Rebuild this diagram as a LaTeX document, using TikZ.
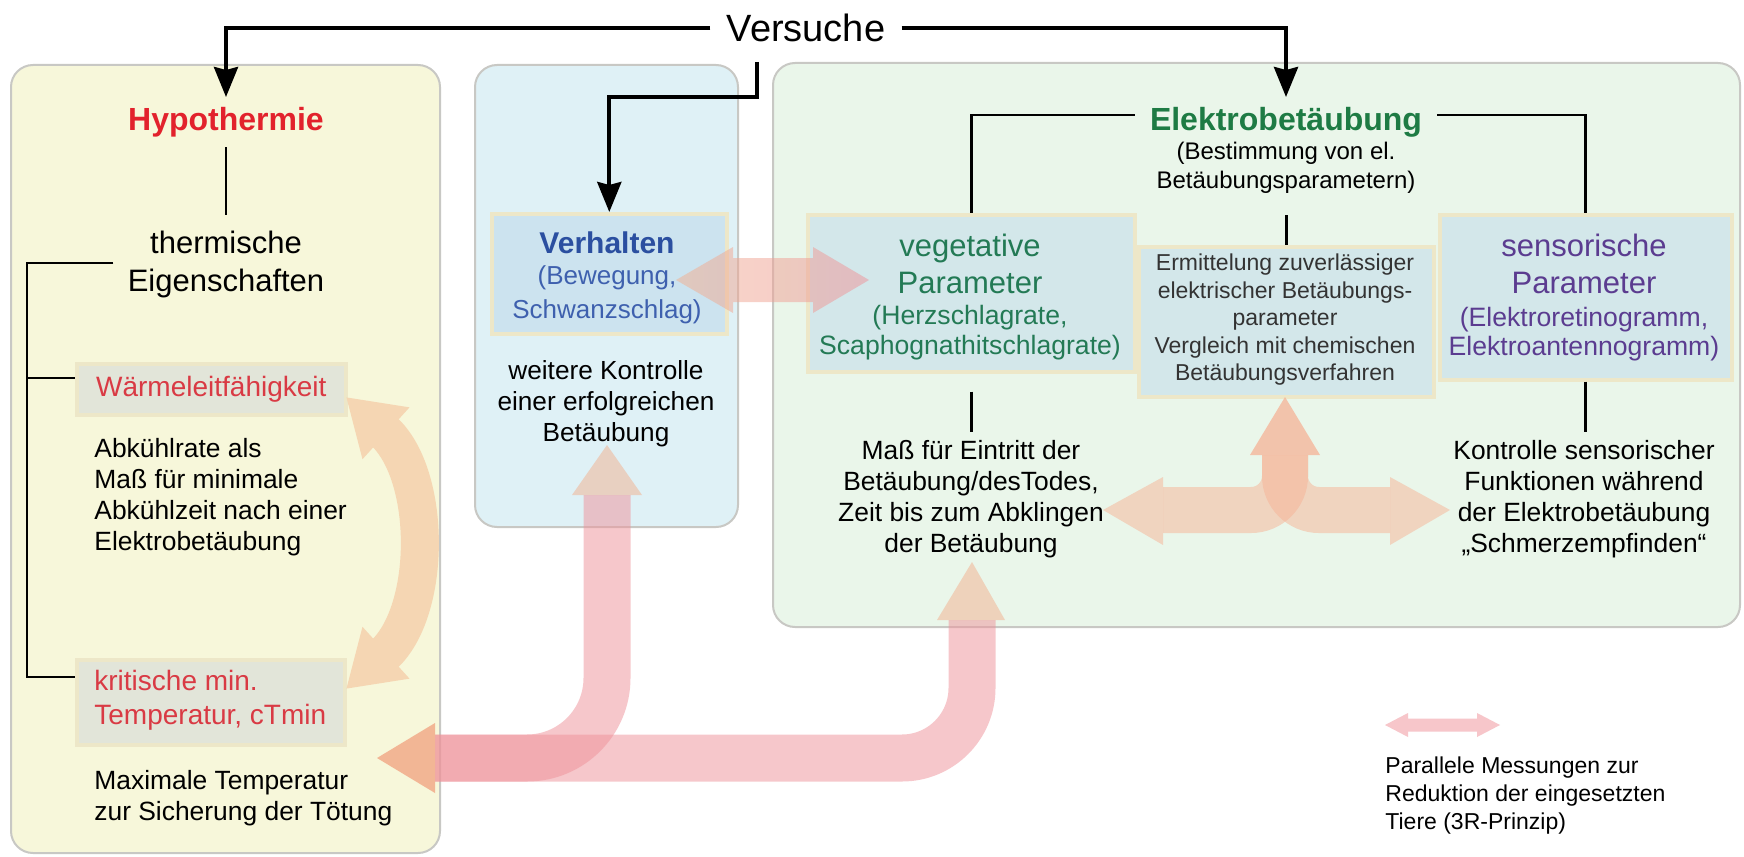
\documentclass[tikz,border=0pt]{standalone}
\usepackage{fontspec}
\setmainfont{Liberation Sans}
\usetikzlibrary{arrows.meta,calc}

\definecolor{yelbg}{HTML}{F7F7DA}
\definecolor{blubg}{HTML}{DFF1F6}
\definecolor{grnbg}{HTML}{EAF6EA}
\definecolor{boxedge}{HTML}{C8C8C4}
\definecolor{glow}{HTML}{EDE7C8}
\definecolor{bluebox}{HTML}{CCE3EF}
\definecolor{tealbox}{HTML}{D3E7EA}
\definecolor{graybox}{HTML}{E2E5D9}
\definecolor{hred}{HTML}{E2222C}
\definecolor{wred}{HTML}{D93A44}
\definecolor{vblue}{HTML}{2B4FA0}
\definecolor{sblue}{HTML}{3E60AE}
\definecolor{vgreen}{HTML}{237A55}
\definecolor{egreen}{HTML}{1E7B44}
\definecolor{spurple}{HTML}{5B3C90}
\definecolor{pinkA}{HTML}{EF9199}
\definecolor{peach}{HTML}{F2B08E}
\definecolor{salmon}{HTML}{F6B396}
\definecolor{tanarrow}{HTML}{F5D6B3}
\definecolor{legpink}{HTML}{F7C6CA}
\definecolor{dgray}{HTML}{333333}

\newcommand{\fsz}[2]{\fontsize{#1}{#2}\selectfont}

\begin{document}
\begin{tikzpicture}[x=0.5pt,y=-0.5pt,
  outerbox/.style={draw=boxedge,line width=1pt,rounded corners=11pt},
  innerbox/.style={draw=glow,line width=1.8pt,inner sep=0pt,anchor=north west},
  conn/.style={line width=1.4pt},
  bigconn/.style={line width=2pt,-{Stealth[width=12pt,length=15pt,inset=1.5pt]}},
  txt/.style={inner sep=0pt,align=center},
  pinkshaft/.style={draw=pinkA,opacity=0.5,line width=23.5pt},
  salshaft/.style={draw=salmon,opacity=0.5,line width=23pt,rounded corners=17pt},
]
\useasboundingbox (0,0) rectangle (1744,856);
\fill[white] (0,0) rectangle (1744,856);

% outer panels
\draw[outerbox,fill=yelbg] (11,65) rectangle (440,853);
\draw[outerbox,fill=blubg] (475,65) rectangle (738,527);
\draw[outerbox,fill=grnbg] (773,63) rectangle (1740,627);

% inner boxes
\node[innerbox,fill=graybox,minimum width=134.5pt,minimum height=25.5pt,
      font=\fsz{14}{17},text=wred] (waerme) at (75,362) {Wärmeleitfähigkeit};
\node[innerbox,fill=graybox,minimum width=134pt,minimum height=42.5pt] (kritbox) at (75,658) {};
\node[innerbox,fill=bluebox,minimum width=117.5pt,minimum height=60pt] (verhbox) at (490,212) {};
\node[innerbox,fill=tealbox,minimum width=163.5pt,minimum height=78.5pt] (vegbox) at (806,213) {};
\node[innerbox,fill=tealbox,minimum width=147.5pt,minimum height=75pt] (ermbox) at (1137,245) {};
\node[innerbox,fill=tealbox,minimum width=146pt,minimum height=82.5pt] (sensbox) at (1438,213) {};

% curved tan double arrow between Waermeleitfaehigkeit and cTmin
\coordinate (ca1) at (346,397);
\coordinate (ca2) at (346,689);
\draw[tanarrow,line width=19pt,{Triangle[width=33pt,length=27pt]}-{Triangle[width=33pt,length=27pt]}]
  (ca1) .. controls (432,475) and (432,611) .. (ca2);

% pink double arrow Verhalten <-> vegetative
\shade[left color=peach,right color=pinkA,opacity=0.5]
  (676,280) -- (733,247) -- (733,258) -- (813,258) -- (813,247) -- (869,280)
  -- (813,313) -- (813,302) -- (733,302) -- (733,313) -- cycle;

% big pink arrows
\draw[pinkshaft,rounded corners=35pt] (972,620) -- (972,758) -- (435,758);
\draw[pinkshaft,rounded corners=40pt] (607,495) -- (607,758) -- (435,758);
\fill[peach,opacity=0.9] (377,758) -- (435,723) -- (435,793) -- cycle;
\fill[peach,opacity=0.5] (607,445) -- (642,495) -- (572,495) -- cycle;
\fill[peach,opacity=0.5] (972,562) -- (1005,620) -- (937,620) -- cycle;

% T-shaped salmon arrows
\draw[salshaft] (1163,510) -- (1285,510) -- (1285,455);
\draw[salshaft] (1390,510) -- (1285,510) -- (1285,455);
\fill[salmon,opacity=0.5] (1103,510) -- (1163,477) -- (1163,545) -- cycle;
\fill[salmon,opacity=0.5] (1450,510) -- (1390,477) -- (1390,545) -- cycle;
\fill[salmon,opacity=0.75] (1285,397) -- (1320,455) -- (1250,455) -- cycle;

% legend arrow
\fill[legpink] (1385,725) -- (1408,713) -- (1408,718.5) -- (1477,718.5) -- (1477,713)
  -- (1500,725) -- (1477,737) -- (1477,731.5) -- (1408,731.5) -- (1408,737) -- cycle;

% texts
\node[txt,inner xsep=8pt,font=\fsz{19}{22}] (versuche) at (806,28) {Versuche};
\node[txt,font=\bfseries\fsz{16}{19},text=hred] (hypo) at (226,122) {Hypothermie};
\node[txt,font=\fsz{15.5}{19}] (therm) at (226,264) {thermische\\Eigenschaften};
\node[txt,anchor=west,align=left,font=\fsz{14}{17},text=wred] (krit) at (94,700) {kritische min.\\Temperatur, cTmin};
\node[txt,anchor=west,align=left,font=\fsz{13.2}{15.5}] (abk) at (94,497)
  {Abkühlrate als\\Maß für minimale\\Abkühlzeit nach einer\\Elektrobetäubung};
\node[txt,anchor=west,align=left,font=\fsz{13.2}{15.5}] (maxt) at (94,798)
  {Maximale Temperatur\\zur Sicherung der Tötung};

\node[txt,font=\bfseries\fsz{15}{17.5},text=vblue] (verh) at (607,243) {Verhalten};
\node[txt,font=\fsz{13}{17},text=sblue] (bew) at (607,295) {(Bewegung,\\Schwanzschlag)};
\node[txt,font=\fsz{13.1}{15.5}] (weitere) at (606,404) {weitere Kontrolle\\einer erfolgreichen\\Betäubung};

\node[txt,font=\bfseries\fsz{16}{19},text=egreen] (elektro) at (1286,122) {Elektrobetäubung};
\node[txt,font=\fsz{12}{14.5}] (bestimm) at (1286,168) {(Bestimmung von el.\\Betäubungsparametern)};

\node[txt,font=\fsz{15.5}{18.5},text=vgreen] (veg) at (970,264) {vegetative\\Parameter};
\node[txt,font=\fsz{13.3}{15},text=vgreen] (vegsub) at (970,333) {(Herzschlagrate,\\Scaphognathitschlagrate)};
\node[txt,font=\fsz{11.5}{13.75},text=dgray] (erm) at (1285,320)
  {Ermittelung zuverlässiger\\elektrischer Betäubungs-\\parameter\\Vergleich mit chemischen\\Betäubungsverfahren};
\node[txt,font=\fsz{15.5}{18.5},text=spurple] (sens) at (1584,264) {sensorische\\Parameter};
\node[txt,font=\fsz{13.3}{14.5},text=spurple] (senssub) at (1584,334) {(Elektroretinogramm,\\Elektroantennogramm)};

\node[txt,font=\fsz{13.2}{15.4}] (mass) at (971,499)
  {Maß für Eintritt der\\Betäubung/desTodes,\\Zeit bis zum Abklingen\\der Betäubung};
\node[txt,font=\fsz{13.2}{15.6}] (kontr) at (1584,499)
  {Kontrolle sensorischer\\Funktionen während\\der Elektrobetäubung\\„Schmerzempfinden“};
\node[txt,anchor=west,align=left,font=\fsz{11.5}{14}] (legend) at (1385,796)
  {Parallele Messungen zur\\Reduktion der eingesetzten\\Tiere (3R-Prinzip)};

% black arrows from Versuche
\draw[bigconn] (versuche.west) -| ($(hypo)+(0,-25)$);
\draw[bigconn] (versuche.east) -| ($(elektro)+(0,-25)$);
\coordinate (vsplit) at (757,62);
\draw[bigconn] (vsplit) |- ($(verhbox.north)+(0,-115)$) -- (verhbox.north);

% thin connectors
\draw[conn] ($(hypo)+(0,25)$) -- ($(therm)+(0,-49)$);
\coordinate (bk1) at (27,263);
\coordinate (bk2) at (27,378);
\coordinate (bk3) at (27,677);
\draw[conn] ([xshift=-7pt]therm.west |- bk1) -- (bk1) -- (bk3) -- (bk3 -| kritbox.west);
\draw[conn] (bk2) -- (bk2 -| waerme.west);

\draw[conn] ([xshift=-7.5pt,yshift=3.5pt]elektro.west) -| (vegbox.north);
\draw[conn] ([xshift=7.5pt,yshift=3.5pt]elektro.east) -| (sensbox.north);
\draw[conn] ($(ermbox.north)+(0,-30)$) -- (ermbox.north);
\draw[conn] ($(vegbox.south)+(0,18)$) -- ($(vegbox.south)+(0,58)$);
\draw[conn] (sensbox.south) -- ($(sensbox.south)+(0,50)$);
\end{tikzpicture}
\end{document}
